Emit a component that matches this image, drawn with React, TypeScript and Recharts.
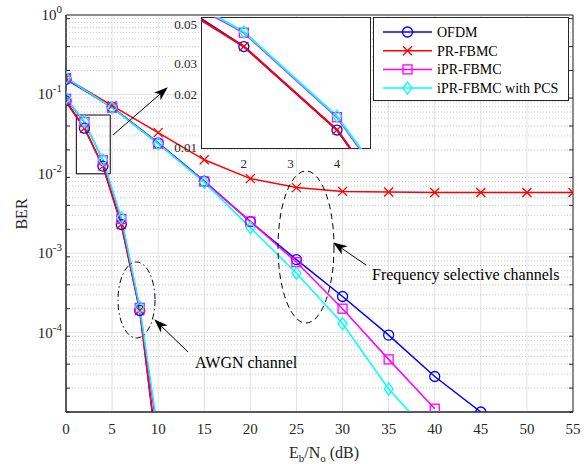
import React from "react";
import {
  LineChart,
  Line,
  XAxis,
  YAxis,
  CartesianGrid,
  ReferenceLine,
  ReferenceArea,
} from "recharts";

const FONT = '"Liberation Serif", "Times New Roman", serif';
const INK = "#262626";

// AWGN channel, Eb/No every 2 dB
const awgnSnr = [0, 2, 4, 6, 8, 10];
const awgnOfdm = [0.083, 0.0375, 0.0125, 0.0023, 1.9e-4, 2.5e-6];
const awgnPr = [0.08, 0.0375, 0.0125, 0.0023, 1.9e-4, 2.4e-6];
const awgnIpr = [0.088, 0.045, 0.0148, 0.0027, 2.05e-4, 4.5e-6];
const awgnPcs = [0.091, 0.0455, 0.015, 0.0028, 2.1e-4, 5.5e-6];

// frequency selective channels, Eb/No every 5 dB
const fsSnr = [0, 5, 10, 15, 20, 25, 30, 35, 40, 45, 50, 55];
const fsOfdm = [0.155, 0.069, 0.0245, 0.0081, 0.0025, 8.3e-4, 2.85e-4, 9.3e-5, 2.8e-5, 1.0e-5];
const fsPr = [0.16, 0.072, 0.033, 0.015, 0.0087, 0.0067, 0.006, 0.0059, 0.0058, 0.0058, 0.0058, 0.0058];
const fsIpr = [0.16, 0.068, 0.024, 0.008, 0.0025, 7.7e-4, 2.0e-4, 4.6e-5, 1.1e-5];
const fsPcs = [0.162, 0.068, 0.024, 0.0078, 0.0021, 5.6e-4, 1.3e-4, 1.95e-5, 4.5e-6];

const xTicks = [0, 5, 10, 15, 20, 25, 30, 35, 40, 45, 50, 55];
const yTicks = [1e-5, 1e-4, 1e-3, 1e-2, 1e-1, 1];
const insetXTicks = [2, 3, 4];
const insetYTicks = [0.01, 0.02, 0.03, 0.04, 0.05];

// minor log grid: 2..9 x each decade
const minorY: number[] = [];
for (let d = -5; d < 0; d++) {
  for (let k = 2; k <= 9; k++) minorY.push(k * Math.pow(10, d));
}

const series = [
  { key: "ofdm", name: "OFDM", color: "#0000ff", shape: "circle" },
  { key: "pr", name: "PR-FBMC", color: "#ff0000", shape: "x" },
  { key: "ipr", name: "iPR-FBMC", color: "#ff00ff", shape: "square" },
  { key: "pcs", name: "iPR-FBMC with PCS", color: "#00ffff", shape: "diamond" },
];

const awgnRows = awgnSnr.map((x, i) => ({
  x,
  ofdm: awgnOfdm[i],
  pr: awgnPr[i],
  ipr: awgnIpr[i],
  pcs: awgnPcs[i],
}));

const fsRows = fsSnr.map((x, i) => ({
  x,
  ofdm: fsOfdm[i],
  pr: fsPr[i],
  ipr: fsIpr[i],
  pcs: fsPcs[i],
}));

function Marker({ shape, color, cx, cy, sw = 1.3 }: any) {
  if (shape === "circle")
    return <circle cx={cx} cy={cy} r={5} fill="none" stroke={color} strokeWidth={sw} />;
  if (shape === "x")
    return (
      <path
        d={`M${cx - 4.5},${cy - 4.5}L${cx + 4.5},${cy + 4.5}M${cx - 4.5},${cy + 4.5}L${cx + 4.5},${cy - 4.5}`}
        stroke={color}
        strokeWidth={sw}
      />
    );
  if (shape === "square")
    return <rect x={cx - 4.5} y={cy - 4.5} width={9} height={9} fill="none" stroke={color} strokeWidth={sw} />;
  return (
    <path
      d={`M${cx},${cy - 6}L${cx + 4.5},${cy}L${cx},${cy + 6}L${cx - 4.5},${cy}Z`}
      fill="none"
      stroke={color}
      strokeWidth={sw}
    />
  );
}

const dotFor = (shape: string, color: string) => (p: any) => {
  if (p.cx == null || p.cy == null || !isFinite(p.cy) || p.value == null) return <g key={p.index} />;
  return (
    <g key={p.index}>
      <Marker shape={shape} color={color} cx={p.cx} cy={p.cy} />
    </g>
  );
};

const YTick = (p: any) => {
  const v = p.payload.value;
  if (v < 2e-5) return <g />;
  const e = Math.round(Math.log10(v));
  return (
    <text x={p.x} y={p.y + 5} textAnchor="end" fontSize={15} fill={INK} fontFamily={FONT}>
      10<tspan dy={-7} fontSize={11}>{e}</tspan>
    </text>
  );
};

const NoTick = () => <g />;

export default function App() {
  return (
    <div style={{ position: "absolute", left: 0, top: 0, width: 587, height: 464, background: "#fff", fontFamily: FONT }}>
      <div style={{ position: "absolute", left: 0, top: 0 }}>
        <LineChart width={587} height={464} margin={{ top: 15, right: 14, bottom: 22, left: 0 }}>
          <CartesianGrid stroke="#e2e2e2" />
          {minorY.map((v) => (
            <ReferenceLine key={v} y={v} stroke="#c8c8c8" strokeDasharray="1 2" />
          ))}
          <XAxis
            type="number"
            dataKey="x"
            domain={[0, 55]}
            ticks={xTicks}
            allowDataOverflow
            height={30}
            tickSize={0}
            tickMargin={11}
            tickLine={false}
            axisLine={{ stroke: INK }}
            tick={{ fontSize: 15, fill: INK, fontFamily: FONT }}
          />
          <YAxis
            scale="log"
            domain={[1e-5, 1]}
            allowDataOverflow
            ticks={yTicks}
            width={66}
            tickSize={0}
            tickMargin={4}
            tickLine={false}
            axisLine={{ stroke: INK }}
            tick={<YTick />}
          />
          <YAxis yAxisId="tl" mirror orientation="left" scale="log" domain={[1e-5, 1]} allowDataOverflow
            ticks={[...yTicks, ...minorY]} tick={<NoTick />} tickSize={4} axisLine={false} tickLine={{ stroke: INK }} />
          <YAxis yAxisId="tr" mirror orientation="right" scale="log" domain={[1e-5, 1]} allowDataOverflow
            ticks={[...yTicks, ...minorY]} tick={<NoTick />} tickSize={4} axisLine={false} tickLine={{ stroke: INK }} />
          <XAxis xAxisId="tb" mirror orientation="bottom" type="number" domain={[0, 55]} ticks={xTicks}
            tick={<NoTick />} tickSize={5} axisLine={false} tickLine={{ stroke: INK }} />
          <XAxis xAxisId="tt" mirror orientation="top" type="number" domain={[0, 55]} ticks={xTicks}
            tick={<NoTick />} tickSize={5} axisLine={false} tickLine={{ stroke: INK }} />
          <ReferenceArea x1={0} x2={55} y1={1e-5} y2={1} fill="none" stroke={INK} />
          {series.map((s) => (
            <Line
              key={"a" + s.key}
              data={awgnRows}
              dataKey={s.key}
              type="linear"
              stroke={s.color}
              strokeWidth={1.5}
              dot={dotFor(s.shape, s.color)}
              activeDot={false}
              isAnimationActive={false}
            />
          ))}
          {series.map((s) => (
            <Line
              key={"f" + s.key}
              data={fsRows}
              dataKey={s.key}
              type="linear"
              stroke={s.color}
              strokeWidth={1.5}
              dot={dotFor(s.shape, s.color)}
              activeDot={false}
              isAnimationActive={false}
            />
          ))}
          <ReferenceArea x1={1.12} x2={4.8} y1={0.01} y2={0.055} fill="none" stroke="#000" />
        </LineChart>
      </div>

      {/* inset zoom of the AWGN curves */}
      <div
        style={{
          position: "absolute",
          left: 201,
          top: 17,
          width: 170,
          height: 132,
          background: "#fff",
          boxSizing: "border-box",
          border: `1px solid ${INK}`,
        }}
      />
      <div style={{ position: "absolute", left: 160, top: 0 }}>
        <LineChart width={216} height={170} margin={{ top: 17, right: 5, bottom: 3, left: 0 }}>
          <XAxis
            type="number"
            dataKey="x"
            domain={[1.08, 4.73]}
            allowDataOverflow
            ticks={insetXTicks}
            height={18}
            tickSize={0}
            tickMargin={10}
            tickLine={false}
            axisLine={false}
            tick={{ fontSize: 13, fill: INK, fontFamily: FONT }}
          />
          <YAxis
            scale="log"
            domain={[0.00974, 0.0553]}
            allowDataOverflow
            ticks={insetYTicks}
            width={41}
            tickSize={0}
            tickMargin={4}
            tickLine={false}
            axisLine={false}
            tickFormatter={(v: number) => v.toFixed(2)}
            tick={{ fontSize: 13, fill: INK, fontFamily: FONT }}
          />
          {series.map((s) => (
            <Line
              key={"i" + s.key}
              data={awgnRows}
              dataKey={s.key}
              type="linear"
              stroke={s.color}
              strokeWidth={2}
              dot={dotFor(s.shape, s.color)}
              activeDot={false}
              isAnimationActive={false}
            />
          ))}
        </LineChart>
      </div>

      <svg
        width={587}
        height={464}
        style={{ position: "absolute", left: 0, top: 0, pointerEvents: "none" }}
        fontFamily={FONT}
      >
        <defs>
          <marker id="head" viewBox="0 0 14 10" refX="13" refY="5" markerWidth="14" markerHeight="10"
            markerUnits="userSpaceOnUse" orient="auto">
            <path d="M0,0 L14,5 L0,10 L4,5 Z" fill="#000" />
          </marker>
        </defs>
        <line x1={113} y1={135} x2={167} y2={88} stroke="#000" strokeWidth={1} markerEnd="url(#head)" />
        <ellipse cx={136.5} cy={300} rx={18.5} ry={38} fill="none" stroke="#000" strokeDasharray="6 3 1.5 3" />
        <line x1={188} y1={352} x2={155} y2={320} stroke="#000" strokeWidth={1} markerEnd="url(#head)" />
        <text x={195} y={368} fontSize={16} fill="#000">AWGN channel</text>
        <ellipse cx={306} cy={247} rx={28} ry={76} fill="none" stroke="#000" strokeDasharray="6 4" />
        <line x1={366} y1={265} x2={334} y2={243} stroke="#000" strokeWidth={1} markerEnd="url(#head)" />
        <text x={372} y={280} fontSize={16} fill="#000">Frequency selective channels</text>

        <rect x={373.5} y={17.5} width={195} height={83} fill="#fff" stroke={INK} />
        {series.map((s, i) => {
          const y = 32 + i * 18.7;
          return (
            <g key={s.key}>
              <line x1={383} x2={432} y1={y} y2={y} stroke={s.color} strokeWidth={1.5} />
              <Marker shape={s.shape} color={s.color} cx={407.5} cy={y} />
              <text x={437} y={y + 5} fontSize={14} fill="#000">{s.name}</text>
            </g>
          );
        })}

        <text x={324} y={458} textAnchor="middle" fontSize={16} fill={INK}>
          E<tspan dy={4} fontSize={11}>b</tspan>
          <tspan dy={-4}>/N</tspan>
          <tspan dy={4} fontSize={11}>o</tspan>
          <tspan dy={-4}> (dB)</tspan>
        </text>
        <text x={27} y={214} textAnchor="middle" fontSize={16} fill={INK} transform="rotate(-90 27 214)">
          BER
        </text>
      </svg>
    </div>
  );
}
